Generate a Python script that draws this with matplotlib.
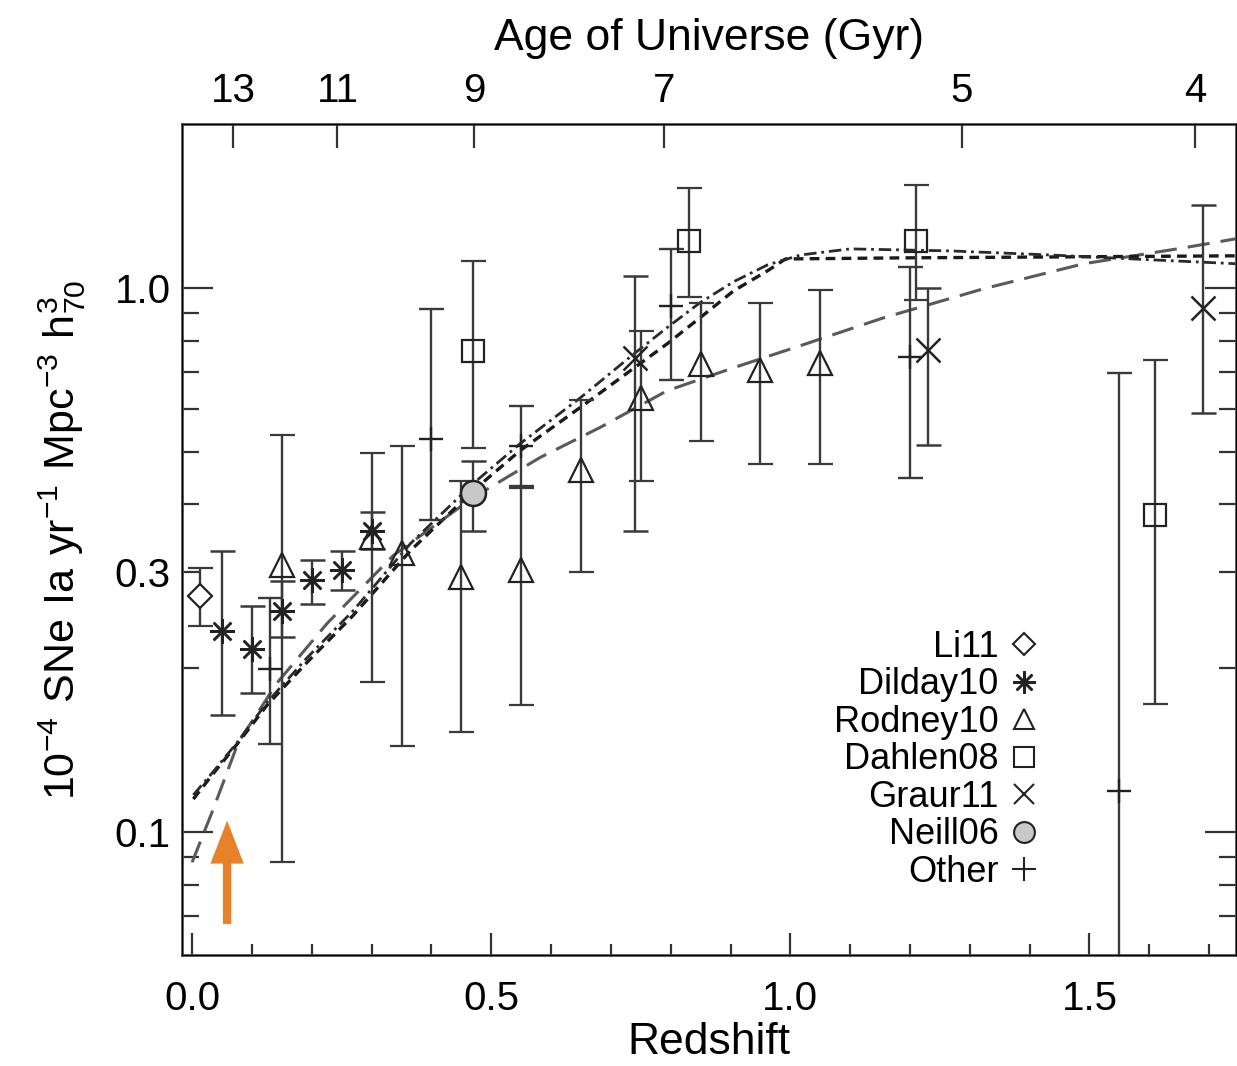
import numpy as np
import matplotlib
matplotlib.use("Agg")
import matplotlib.pyplot as plt
from matplotlib.lines import Line2D

plt.rcParams['font.family'] = ['Liberation Sans', 'DejaVu Sans']
plt.rcParams['mathtext.fontset'] = 'custom'
plt.rcParams['mathtext.rm'] = 'Liberation Sans'
plt.rcParams['lines.scale_dashes'] = False

# ---- data (redshift, rate, lower, upper) ----
li_z = [0.013]
li_y = [0.271]
li_lo = [0.239]
li_hi = [0.306]

dilday_z = [0.05, 0.10, 0.15, 0.20, 0.25, 0.30]
dilday_y = [0.234, 0.217, 0.255, 0.290, 0.303, 0.358]
dilday_lo = [0.164, 0.180, 0.228, 0.263, 0.279, 0.331]
dilday_hi = [0.328, 0.260, 0.289, 0.316, 0.328, 0.388]

rodney_z = [0.15, 0.30, 0.35, 0.45, 0.55, 0.65, 0.75, 0.85, 0.95, 1.05]
rodney_y = [0.309, 0.348, 0.326, 0.294, 0.303, 0.462, 0.628, 0.726, 0.705, 0.728]
rodney_lo = [0.088, 0.189, 0.144, 0.153, 0.171, 0.301, 0.441, 0.524, 0.475, 0.474]
rodney_hi = [0.537, 0.498, 0.513, 0.441, 0.428, 0.621, 0.834, 0.939, 0.939, 0.990]

dahlen_z = [0.47, 0.83, 1.21, 1.61]
dahlen_y = [0.766, 1.22, 1.22, 0.383]
dahlen_lo = [0.507, 0.962, 0.951, 0.172]
dahlen_hi = [1.121, 1.525, 1.545, 0.738]

graur_z = [0.74, 1.23, 1.69]
graur_y = [0.744, 0.769, 0.919]
graur_lo = [0.357, 0.515, 0.590]
graur_hi = [1.05, 1.00, 1.42]

neill_z = [0.47]
neill_y = [0.419]
neill_lo = [0.358]
neill_hi = [0.480]

other_z = [0.13, 0.40, 0.55, 0.80, 1.20, 1.55]
other_y = [0.199, 0.528, 0.513, 0.927, 0.747, 0.119]
other_lo = [0.145, 0.374, 0.433, 0.678, 0.448, 0.010]
other_hi = [0.269, 0.915, 0.607, 1.179, 1.093, 0.698]

# model curves
longdash_z = [0.0, 0.035, 0.077, 0.142, 0.226, 0.336, 0.470, 0.582, 0.682, 0.794,
              0.905, 1.017, 1.156, 1.323, 1.490, 1.657, 1.744]
longdash_y = [0.088, 0.110, 0.146, 0.188, 0.242, 0.322, 0.412, 0.488, 0.554, 0.647,
              0.713, 0.783, 0.881, 0.996, 1.107, 1.184, 1.230]

dash_z = [0.002, 0.035, 0.075, 0.125, 0.192, 0.269, 0.365, 0.470, 0.548, 0.649,
          0.737, 0.794, 0.849, 0.905, 0.962, 0.992, 1.184, 1.747]
dash_y = [0.115, 0.128, 0.145, 0.171, 0.205, 0.250, 0.329, 0.424, 0.502, 0.603,
          0.710, 0.789, 0.881, 0.987, 1.075, 1.130, 1.135, 1.145]

dashdot_z = [0.002, 0.035, 0.075, 0.125, 0.192, 0.269, 0.365, 0.470, 0.548, 0.649,
             0.737, 0.794, 0.849, 0.905, 0.962, 1.017, 1.100, 1.268, 1.435, 1.602, 1.747]
dashdot_y = [0.117, 0.129, 0.146, 0.173, 0.209, 0.255, 0.339, 0.437, 0.517, 0.628,
             0.754, 0.845, 0.939, 1.026, 1.102, 1.149, 1.179, 1.169, 1.149, 1.126, 1.107]

# top axis: age of universe
age_labels = ['13', '11', '9', '7', '5', '4']
age_z = [0.069, 0.243, 0.471, 0.789, 1.287, 1.677]

arrow_z = 0.0585
arrow_y = (0.0678, 0.105)

ink = '#3a3a3a'

fig = plt.figure(figsize=(12.37, 10.66), dpi=100)
ax = fig.add_axes([0.1471, 0.1043, 0.8521, 0.7794])

ax.plot(longdash_z, longdash_y, color='#5a5a5a', lw=2.2, dashes=(16, 8))
ax.plot(dash_z, dash_y, color='#1a1a1a', lw=2.4, dashes=(7, 4.5))
ax.plot(dashdot_z, dashdot_y, color='#2a2a2a', lw=2.0, dashes=(9, 3.5, 2, 3.5))


def draw(z, y, lo, hi, **kw):
    y = np.array(y)
    err = [y - np.array(lo), np.array(hi) - y]
    ax.errorbar(z, y, yerr=err, ecolor=ink, elinewidth=1.7, capsize=9,
                capthick=1.7, ls='none', mec='#222222', zorder=3, **kw)


draw(li_z, li_y, li_lo, li_hi, marker='D', ms=12, mfc='white', mew=1.6)
draw(dilday_z, dilday_y, dilday_lo, dilday_hi, marker=(8, 2, 0), ms=18, mew=1.8)
draw(rodney_z, rodney_y, rodney_lo, rodney_hi, marker='^', ms=17, mfc='none', mew=1.6)
draw(dahlen_z, dahlen_y, dahlen_lo, dahlen_hi, marker='s', ms=16, mfc='none', mew=1.6)
draw(graur_z, graur_y, graur_lo, graur_hi, marker='x', ms=17, mew=1.8)
draw(neill_z, neill_y, neill_lo, neill_hi, marker='o', ms=18, mfc='#c8c8c8', mew=1.8)
draw(other_z, other_y, other_lo, other_hi, marker='+', ms=17, mew=1.7)

ax.annotate('', xy=(arrow_z, arrow_y[1]), xytext=(arrow_z, arrow_y[0]),
            arrowprops=dict(arrowstyle='simple,head_length=31,head_width=24,tail_width=6',
                            mutation_scale=1, color='#e8822a', lw=0,
                            shrinkA=0, shrinkB=0), zorder=4)

ax.set_yscale('log')
ax.set_xlim(-0.017, 1.745)
ax.set_ylim(0.0595, 2.0)

ax.set_xticks([0.0, 0.5, 1.0, 1.5], labels=['0.0', '0.5', '1.0', '1.5'])
ax.set_xticks(np.arange(0.1, 1.75, 0.1), minor=True)
ax.set_yticks([0.1, 1.0], labels=['0.1', '1.0'])
minor_y = [0.07, 0.08, 0.09, 0.2, 0.3, 0.4, 0.5, 0.6, 0.7, 0.8, 0.9]
ax.set_yticks(minor_y, labels=['0.3' if v == 0.3 else '' for v in minor_y], minor=True)

ax.tick_params(axis='both', which='both', direction='in', colors='#333333',
               labelcolor='black', labelsize=29, width=1.6)
ax.tick_params(axis='x', which='major', length=16, top=False, pad=18)
ax.tick_params(axis='x', which='minor', length=8, top=False, pad=18)
ax.tick_params(axis='y', which='major', length=22, right=True, pad=8)
ax.tick_params(axis='y', which='minor', length=12, right=True, pad=8)

for s in ax.spines.values():
    s.set_linewidth(2.0)
    s.set_color('#555555')

ax.set_xlabel('Redshift', fontsize=32, labelpad=3)
ax.set_ylabel(r'$\mathregular{10^{-4}\ SNe\ Ia\ yr^{-1}\ Mpc^{-3}\ h_{70}^{3}}$',
              fontsize=31, labelpad=19)

top = ax.twiny()
top.set_xlim(ax.get_xlim())
top.set_xticks(age_z, labels=age_labels)
top.tick_params(axis='x', direction='in', length=17, width=1.6, colors='#333333',
                labelsize=29, labelcolor='black', pad=10)
top.set_xlabel('Age of Universe (Gyr)', fontsize=32, labelpad=16)

handles = [
    Line2D([], [], ls='none', marker='D', ms=11, mfc='white', mec='#222222', mew=1.5),
    Line2D([], [], ls='none', marker=(8, 2, 0), ms=16, mec='#222222', mew=1.8),
    Line2D([], [], ls='none', marker='^', ms=14, mfc='none', mec='#222222', mew=1.5),
    Line2D([], [], ls='none', marker='s', ms=15, mfc='none', mec='#222222', mew=1.5),
    Line2D([], [], ls='none', marker='x', ms=15, mec='#222222', mew=1.5),
    Line2D([], [], ls='none', marker='o', ms=15, mfc='#c8c8c8', mec='#222222', mew=1.5),
    Line2D([], [], ls='none', marker='+', ms=17, mec='#222222', mew=1.5),
]
names = ['Li11', 'Dilday10', 'Rodney10', 'Dahlen08', 'Graur11', 'Neill06', 'Other']
ax.legend(handles, names, markerfirst=False, frameon=False, fontsize=26,
          loc='upper right', bbox_to_anchor=(0.833, 0.413), labelspacing=0.07,
          handlelength=1.0, handletextpad=0.2, borderpad=0)

fig.savefig('out.png', dpi=100)
